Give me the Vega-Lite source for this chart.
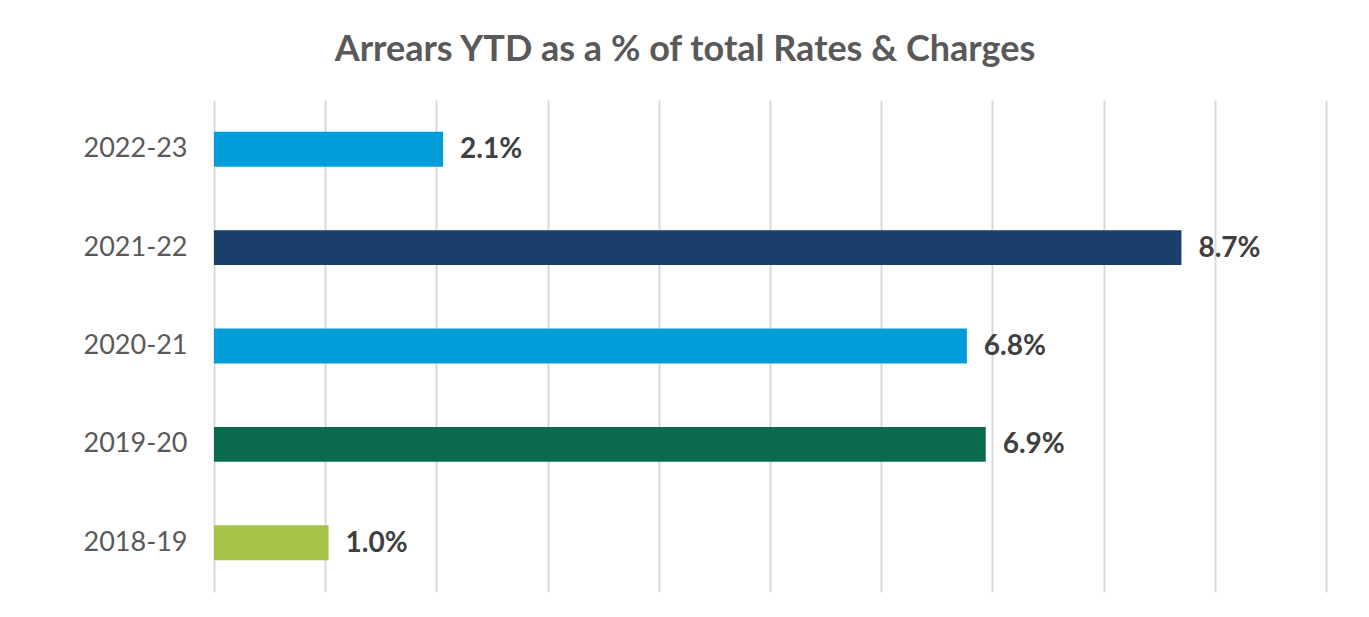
{
  "$schema": "https://vega.github.io/schema/vega-lite/v6.json",
  "width": 1112,
  "height": 492,
  "autosize": {"type": "none"},
  "padding": {"left": 214, "top": 100, "right": 43, "bottom": 25},
  "background": "white",
  "title": {
    "text": "Arrears YTD as a % of total Rates & Charges",
    "font": "Lato",
    "fontSize": 36,
    "fontWeight": "bold",
    "color": "#595959",
    "anchor": "middle",
    "frame": "group",
    "dx": -85,
    "offset": 31
  },
  "data": {
    "values": [
      {"year": "2022-23", "value": 0.0206},
      {"year": "2021-22", "value": 0.0870},
      {"year": "2020-21", "value": 0.0677},
      {"year": "2019-20", "value": 0.0694},
      {"year": "2018-19", "value": 0.0103}
    ]
  },
  "encoding": {
    "y": {
      "field": "year",
      "type": "nominal",
      "sort": null,
      "scale": {"paddingInner": 0.645, "paddingOuter": 0.3225},
      "axis": {
        "title": null,
        "domain": false,
        "ticks": false,
        "labelFont": "Lato",
        "labelFontSize": 27,
        "labelColor": "#595959",
        "labelPadding": 27
      }
    },
    "x": {
      "field": "value",
      "type": "quantitative",
      "scale": {"domain": [0, 0.1], "nice": false},
      "axis": {
        "title": null,
        "values": [0, 0.01, 0.02, 0.03, 0.04, 0.05, 0.06, 0.07, 0.08, 0.09, 0.1],
        "labels": false,
        "ticks": false,
        "domain": false,
        "grid": true,
        "gridColor": "#D9D9D9",
        "gridWidth": 2
      }
    }
  },
  "layer": [
    {
      "mark": {"type": "bar"},
      "encoding": {
        "color": {
          "field": "year",
          "type": "nominal",
          "scale": {
            "domain": ["2022-23", "2021-22", "2020-21", "2019-20", "2018-19"],
            "range": ["#009DD9", "#1A3F6B", "#009DD9", "#0A6A4D", "#A8C34A"]
          },
          "legend": null
        }
      }
    },
    {
      "mark": {
        "type": "text",
        "align": "left",
        "baseline": "middle",
        "dx": 17,
        "dy": 1,
        "font": "Lato",
        "fontSize": 28,
        "fontWeight": "bold",
        "color": "#404040"
      },
      "encoding": {
        "text": {"field": "value", "type": "quantitative", "format": ".1%"}
      }
    }
  ],
  "config": {
    "view": {"stroke": null}
  }
}
